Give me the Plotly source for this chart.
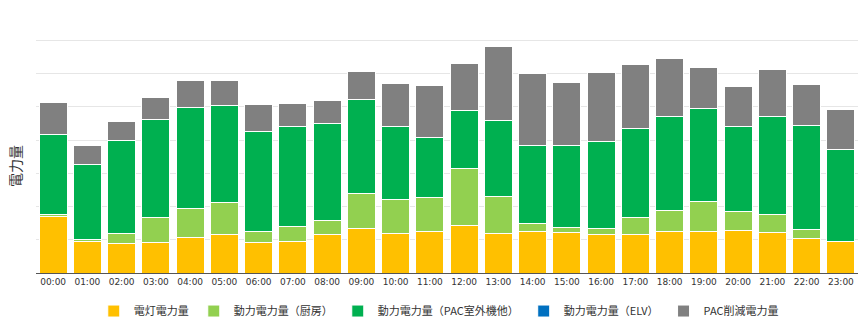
import plotly.graph_objects as go

hours = [f"{h:02d}:00" for h in range(24)]

lighting = [1.70, 0.94, 0.90, 0.93, 1.07, 1.15, 0.93, 0.95, 1.15, 1.33, 1.19, 1.24,
            1.42, 1.19, 1.24, 1.22, 1.17, 1.17, 1.26, 1.24, 1.29, 1.22, 1.05, 0.94]
kitchen = [0.05, 0.07, 0.28, 0.73, 0.86, 0.97, 0.31, 0.44, 0.42, 1.07, 1.03, 1.03,
           1.72, 1.12, 0.25, 0.15, 0.18, 0.49, 0.62, 0.90, 0.57, 0.53, 0.26, 0.02]
pac_other = [2.43, 2.26, 2.80, 2.96, 3.05, 2.91, 3.03, 3.01, 2.92, 2.81, 2.18, 1.80,
             1.75, 2.29, 2.35, 2.45, 2.60, 2.70, 2.84, 2.81, 2.54, 2.97, 3.12, 2.75]
elv = [0.0] * 24
pac_reduced = [0.95, 0.55, 0.57, 0.67, 0.80, 0.75, 0.79, 0.71, 0.70, 0.84, 1.29, 1.57,
               1.42, 2.21, 2.15, 1.90, 2.09, 1.92, 1.72, 1.24, 1.20, 1.40, 1.24, 1.21]

y_title = "電力量"

series = [
    ("電灯電力量", lighting, "#FFC000"),
    ("動力電力量（厨房）", kitchen, "#92D050"),
    ("動力電力量（PAC室外機他）", pac_other, "#00B050"),
    ("動力電力量（ELV）", elv, "#0070C0"),
    ("PAC削減電力量", pac_reduced, "#808080"),
]

fig = go.Figure()
for name, vals, color in series:
    fig.add_trace(go.Bar(
        x=hours, y=vals, name=name,
        marker=dict(color=color, line=dict(color="#ffffff", width=1)),
    ))

fig.update_layout(
    barmode="stack",
    bargap=0.18,
    width=860, height=329,
    margin=dict(l=36, r=2, t=7, b=56),
    paper_bgcolor="white",
    plot_bgcolor="white",
    font=dict(family="Noto Sans CJK JP", color="#333333"),
    showlegend=True,
    legend=dict(
        orientation="h", x=0.49, xanchor="center", y=-0.143, yanchor="middle",
        font=dict(size=11, color="#333333", family="Noto Sans CJK JP"),
        traceorder="normal",
        itemwidth=30,
    ),
    xaxis=dict(
        type="category",
        range=[-0.5, 23.5],
        showgrid=False,
        showline=True, linecolor="#555555", linewidth=1,
        ticks="",
        tickfont=dict(size=9, family="DejaVu Sans", color="#333333"),
    ),
    yaxis=dict(
        range=[0, 8],
        dtick=1,
        showgrid=True, gridcolor="#e6e6e6", gridwidth=1,
        showticklabels=False,
        zeroline=False,
    ),
    annotations=[dict(
        text=y_title, textangle=-90, showarrow=False,
        xref="paper", yref="paper", x=-0.0255, y=0.402,
        xanchor="center", yanchor="middle",
        font=dict(size=14, color="#333333", family="Noto Sans CJK JP"),
    )],
)

fig.write_html("out.html")
